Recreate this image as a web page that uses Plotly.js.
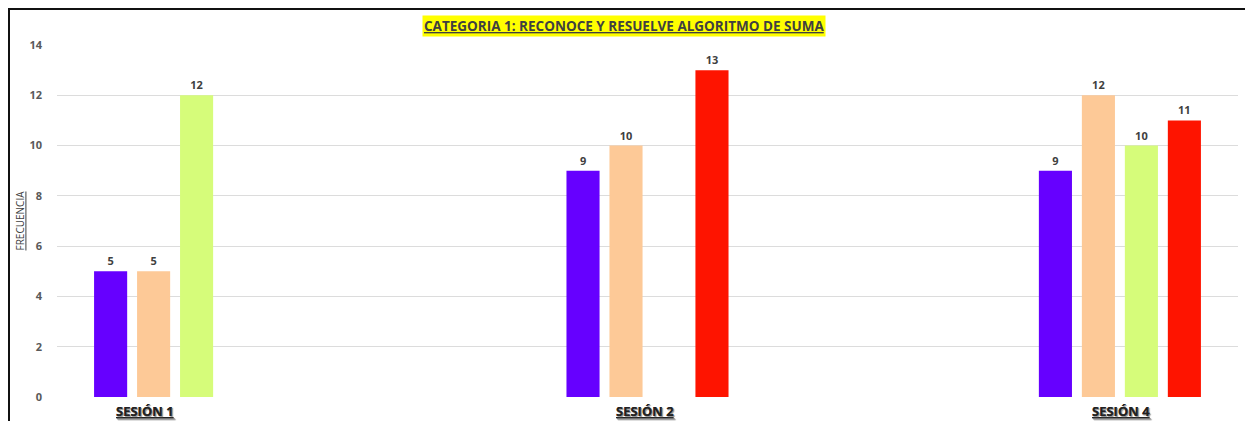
<!DOCTYPE html>
<html>
<head>
<meta charset="utf-8">
<script src="https://cdn.plot.ly/plotly-3.0.1.min.js"></script>
<style>
  html, body { margin: 0; padding: 0; background: #fff; }
  #wrap { position: relative; width: 1245px; height: 421px; overflow: hidden; }
  #chart { position: absolute; left: 0; top: 0; width: 1245px; height: 421px; }
  #frame { position: absolute; left: 8px; top: 8px; width: 1300px; height: 500px;
           border-top: 2px solid #111; border-left: 2px solid #111; pointer-events: none; }
</style>
</head>
<body>
<div id="wrap">
  <div id="chart"></div>
  <div id="frame"></div>
</div>
<script>
const categories = ["SESIÓN 1", "SESIÓN 2", "SESIÓN 4"];
const seriesPurple = [5, 9, 9];
const seriesPeach = [5, 10, 12];
const seriesGreen = [12, null, 10];
const seriesRed = [null, 13, 11];
const yTicks = [0, 2, 4, 6, 8, 10, 12, 14];
const titleText = "CATEGORIA 1: RECONOCE Y RESUELVE ALGORITMO DE SUMA";
const yTitle = "FRECUENCIA";

const FONT = "'Open Sans', 'Liberation Sans', sans-serif";
const colors = ["#6600ff", "#fdc997", "#d6fc7a", "#fe1400"];
const allSeries = [seriesPurple, seriesPeach, seriesGreen, seriesRed];

const traces = allSeries.map((vals, i) => ({
  type: "bar",
  x: categories,
  y: vals,
  marker: { color: colors[i] },
  text: vals.map(v => v === null ? "" : String(v)),
  textposition: "outside",
  textfont: { family: FONT, size: 11, color: "#404040", weight: "bold" },
  cliponaxis: false,
  hoverinfo: "x+y",
  showlegend: false
}));

const labelShift = [-30, -3, 1];
const annotations = categories.map((c, i) => ({
  x: c, xref: "x", y: 0, yref: "y",
  yanchor: "top", yshift: -3, xshift: labelShift[i],
  text: "<b><u>" + c + "</u></b>",
  showarrow: false,
  font: { family: FONT, size: 13, color: "#222", shadow: "1px 1px 1px #999" }
}));

const plotH = 421 - 45 - 24;
annotations.push({
  x: 0.48, xref: "paper", y: 1 + (45 - 26) / plotH, yref: "paper",
  yanchor: "middle",
  text: "<b><u>" + titleText + "</u></b>",
  showarrow: false,
  bgcolor: "#ffff00",
  borderpad: 1,
  font: { family: FONT, size: 13.5, color: "#404040" }
});

const layout = {
  width: 1245, height: 421,
  margin: { l: 57, r: 7, t: 45, b: 24 },
  paper_bgcolor: "rgba(0,0,0,0)",
  plot_bgcolor: "#fff",
  barmode: "group",
  bargap: 0.636,
  bargroupgap: 0.23,
  xaxis: {
    type: "category",
    range: [-0.25, 2.25],
    showticklabels: false,
    showgrid: false, zeroline: false, showline: false, ticks: ""
  },
  yaxis: {
    range: [0, 14],
    tickvals: yTicks,
    ticktext: yTicks.map(String),
    showgrid: true, gridcolor: "#dcdcdc", gridwidth: 1,
    zeroline: false, showline: false, ticks: "",
    ticklabelstandoff: 14,
    tickfont: { family: FONT, size: 11, color: "#595959", weight: "bold" },
    title: { text: "<u>" + yTitle + "</u>", standoff: 2,
             font: { family: FONT, size: 10, color: "#404040" } }
  },
  annotations: annotations
};

Plotly.newPlot("chart", traces, layout, { displayModeBar: false, staticPlot: true });
</script>
</body>
</html>
